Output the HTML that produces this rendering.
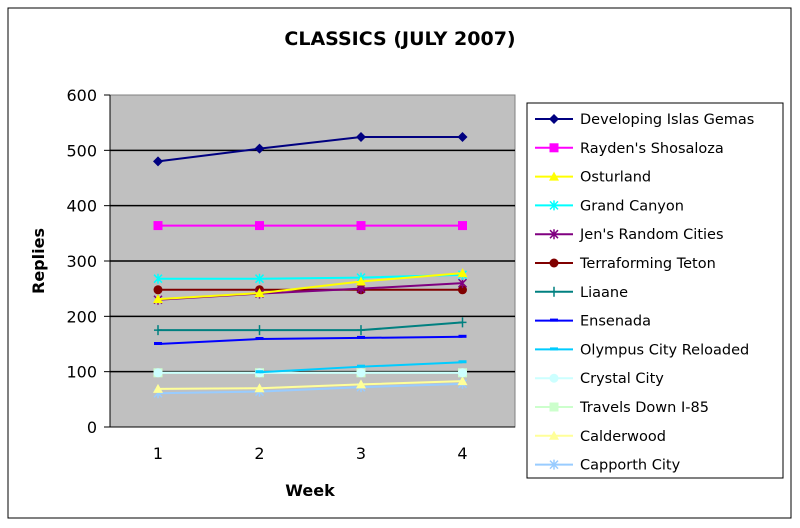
<!DOCTYPE html>
<html><head><meta charset="utf-8"><style>
body{margin:0;background:#fff;}
svg{display:block;font-family:"DejaVu Sans","Liberation Sans",sans-serif;}
</style></head><body>
<svg id="c" width="800" height="528">
<rect x="8" y="8" width="783" height="510" fill="#fff" stroke="#000" stroke-width="1"/>
<text x="400" y="45" text-anchor="middle" font-size="19" font-weight="bold">CLASSICS (JULY 2007)</text>
<rect x="110" y="95" width="405" height="332" fill="#c0c0c0" stroke="#808080"/>
<text transform="translate(44,261) rotate(-90)" text-anchor="middle" font-size="16" font-weight="bold">Replies</text>
<text x="310" y="496" text-anchor="middle" font-size="16" font-weight="bold">Week</text>
<rect x="527" y="103" width="256" height="375" fill="#fff" stroke="#000"/>
<g id="grid"></g><g id="series"></g><g id="leg"></g>
</svg>
<script>
const categories=[1,2,3,4];
const yTicks=[0,100,200,300,400,500,600];
const names=["Developing Islas Gemas","Rayden's Shosaloza","Osturland","Grand Canyon","Jen's Random Cities","Terraforming Teton","Liaane","Ensenada","Olympus City Reloaded","Crystal City","Travels Down I-85","Calderwood","Capporth City"];
const sDeveloping=[480,503,524,524];
const sRayden=[364,364,364,364];
const sOsturland=[231,242,263,278];
const sGrand=[268,268,270,275];
const sJens=[230,241,250,260];
const sTerra=[248,248,248,248];
const sLiaane=[175,175,175,189];
const sEnsenada=[150,159,161,163];
const sOlympus=[null,99,109,117];
const sCrystal=[98,98,98,98];
const sTravels=[98,98,98,98];
const sCalder=[69,70,77,83];
const sCapporth=[61,64,72,78];
const allSeries=[sDeveloping,sRayden,sOsturland,sGrand,sJens,sTerra,sLiaane,sEnsenada,sOlympus,sCrystal,sTravels,sCalder,sCapporth];
const colors=["#000080","#ff00ff","#ffff00","#00ffff","#800080","#800000","#008080","#0000ff","#00ccff","#ccffff","#ccffcc","#ffff99","#99ccff"];
const markers=["diamond","square","triangle","x","star","circle","plus","dash","dash","circle","square","triangle","x"];
const NS="http://www.w3.org/2000/svg";
const X=v=>158+(v-1)*101.5, Y=v=>427-v*332/600;
function mk(t,a,p){const e=document.createElementNS(NS,t);for(const k in a)e.setAttribute(k,a[k]);p.appendChild(e);return e;}
const g=document.getElementById('grid');
yTicks.forEach(t=>{
 if(t>0&&t<600){const l=mk('line',{x1:110,x2:515,y1:Y(t),y2:Y(t),stroke:'#000','stroke-width':1.5},g);
 
 }
 const tk=mk('line',{x1:104,x2:110,y1:Y(t),y2:Y(t),stroke:'#000'},g);
 
 
 const tx=mk('text',{x:97,y:Y(t)+6,'text-anchor':'end','font-size':16},g);tx.textContent=t;
 
 
});
mk('line',{x1:110,x2:110,y1:95,y2:427,stroke:'#000'},g);
mk('line',{x1:110,x2:515,y1:427,y2:427,stroke:'#000'},g);
categories.forEach(c=>{
 const tx=mk('text',{x:X(c),y:459,'text-anchor':'middle','font-size':16},g);tx.textContent=c;
 
 
});
function marker(p,x,y,type,col){
 let e;
 if(type=='diamond')e=mk('polygon',{points:`${x},${y-5} ${x+5},${y} ${x},${y+5} ${x-5},${y}`,fill:col},p);
 else if(type=='square')e=mk('rect',{x:x-4.5,y:y-4.5,width:9,height:9,fill:col},p);
 else if(type=='triangle')e=mk('polygon',{points:`${x},${y-5} ${x+5},${y+4} ${x-5},${y+4}`,fill:col},p);
 else if(type=='circle')e=mk('circle',{cx:x,cy:y,r:4.5,fill:col},p);
 else if(type=='plus')e=mk('path',{d:`M${x-4},${y}H${x+4}M${x},${y-5}V${y+5}`,stroke:col,'stroke-width':1.5},p);
 else if(type=='dash')e=mk('rect',{x:x-4,y:y-2,width:8,height:3,fill:col},p);
 else e=mk('path',{d:`M${x-4},${y-4}L${x+4},${y+4}M${x+4},${y-4}L${x-4},${y+4}M${x},${y-5}V${y+5}`,stroke:col,'stroke-width':1.5},p);
 
 
}
const sg=document.getElementById('series');
allSeries.slice().reverse().forEach((s,ri)=>{
 const i=allSeries.length-1-ri;
 const grp=mk('g',{},sg);
 
 
 const pts=[];s.forEach((v,k)=>{if(v!=null)pts.push([X(categories[k]),Y(v)]);});
 const pl=mk('polyline',{points:pts.map(p=>p.join(',')).join(' '),fill:'none',stroke:colors[i],'stroke-width':2},grp);
 
 
 pts.forEach(p=>marker(grp,p[0],p[1],markers[i],colors[i]));
});
const lg=document.getElementById('leg');
names.forEach((n,i)=>{
 const y=119+i*28.8;
 const grp=mk('g',{},lg);
 
 
 mk('line',{x1:535,x2:573,y1:y,y2:y,stroke:colors[i],'stroke-width':2},grp);
 marker(grp,554,y,markers[i],colors[i]);
 const t=mk('text',{x:580,y:y+5,'font-size':14.5},grp);t.textContent=n;
});
</script>
</body></html>
